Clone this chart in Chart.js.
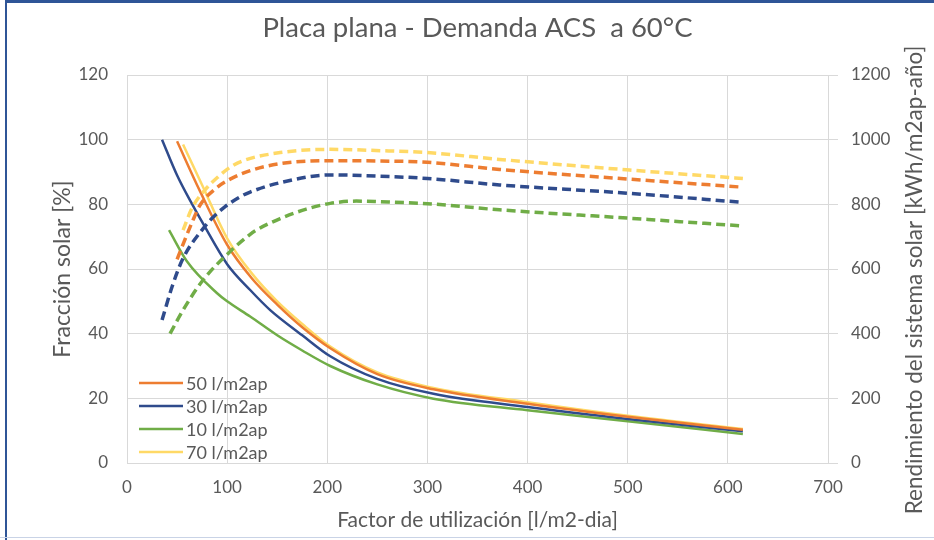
<!DOCTYPE html>
<html><head><meta charset="utf-8">
<script src="https://cdn.jsdelivr.net/npm/chart.js@4.4.1/dist/chart.umd.min.js"></script>
<style>
html,body{margin:0;padding:0;background:#fff;}
#wrap{position:relative;width:934px;height:540px;overflow:hidden;background:#fff;}
#c{position:absolute;left:0;top:0;}
#bl{position:absolute;left:5px;top:0;width:2px;height:540px;background:#2F5597;}
#bt{position:absolute;left:5px;top:0;width:929px;height:3px;background:#2F5597;}
#bb{position:absolute;left:0;top:537px;width:934px;height:1px;background:#C9D3E6;}
</style></head>
<body>
<div id="wrap"><canvas id="c" width="934" height="540"></canvas><div id="bl"></div><div id="bt"></div><div id="bb"></div></div>
<script>
// ---- data ----
const chartTitle = "Placa plana - Demanda ACS  a 60°C";
const xTitle = "Factor de utilización [l/m2-dia]";
const yLeftTitle = "Fracción solar [%]";
const yRightTitle = "Rendimiento del sistema solar [kWh/m2ap-año]";
const seriesLabels = ["50 l/m2ap", "30 l/m2ap", "10 l/m2ap", "70 l/m2ap"];
const xTicks = [0, 100, 200, 300, 400, 500, 600, 700];
const yLeftTicks = [0, 20, 40, 60, 80, 100, 120];
const yRightTicks = [0, 200, 400, 600, 800, 1000, 1200];

// Fracción solar [%] (solid lines)
const x50 = [50, 73, 100, 125, 150, 175, 203, 250, 306, 400, 500, 615];
const fs50 = [99.5, 84, 67.5, 57, 49, 42, 35.5, 27.5, 22.8, 18.3, 14.3, 10.3];
const x30 = [35, 50, 66, 76, 100, 123, 143, 175, 203, 250, 306, 400, 500, 615];
const fs30 = [100, 89, 79.5, 74, 61.5, 53.5, 47.3, 39.5, 33, 26, 21.4, 17.3, 13.6, 9.8];
const x10 = [42, 60, 90, 100, 123, 150, 175, 203, 250, 306, 400, 500, 615];
const fs10 = [72, 62.3, 52.5, 50, 45.3, 39.5, 34.8, 30, 24.3, 19.9, 16.3, 12.9, 9.0];
const x70 = [56, 75, 100, 125, 150, 175, 203, 250, 306, 400, 500, 615];
const fs70 = [98.5, 86, 69.5, 58.5, 50, 43, 36, 28, 23.2, 18.8, 14.6, 10.5];

// Rendimiento [kWh/m2ap-año] (dashed lines)
const xr50 = [50, 66, 73, 89, 103, 123, 153, 203, 253, 300, 372, 502, 615];
const rd50 = [630, 752, 798, 850, 878, 904, 926, 935, 934, 930, 908, 878, 853];
const xr30 = [35, 45, 56, 76, 85, 98, 114, 123, 153, 203, 253, 300, 372, 502, 615];
const rd30 = [442, 545, 633, 725, 757, 793, 825, 838, 867, 891, 887, 880, 860, 834, 806];
const xr10 = [43, 56, 76, 103, 120, 128, 153, 179, 203, 229, 253, 300, 372, 502, 615];
const rd10 = [400, 473, 566, 654, 700, 718, 756, 785, 803, 810, 808, 802, 783, 757, 733];
const xr70 = [56, 65, 78, 91, 103, 116, 153, 203, 253, 300, 372, 502, 615];
const rd70 = [720, 789, 845, 885, 915, 935, 960, 970, 966, 960, 939, 906, 880];

// ---- style ----
const colors = ["#ED7D31", "#2F4B8C", "#70AD47", "#FFD966"];
const textColor = "#595959";
const gridColor = "#D9D9D9";
const FONT = "Lato";

const pts = (xs, ys) => xs.map((x, i) => ({x: x, y: ys[i]}));
const solidSets = [[x50, fs50], [x30, fs30], [x10, fs10], [x70, fs70]];
const dashSets = [[xr50, rd50], [xr30, rd30], [xr10, rd10], [xr70, rd70]];

const datasets = [];
dashSets.forEach((s, i) => datasets.push({
  label: seriesLabels[i] + " rendimiento", data: pts(s[0], s[1]), yAxisID: "y2",
  borderColor: colors[i], borderWidth: 3.5, borderDash: [9, 5], pointRadius: 0,
  cubicInterpolationMode: "monotone", fill: false
}));
solidSets.forEach((s, i) => datasets.push({
  label: seriesLabels[i], data: pts(s[0], s[1]), yAxisID: "y",
  borderColor: colors[i], borderWidth: 2.5, pointRadius: 0,
  cubicInterpolationMode: "monotone", fill: false
}));

const insideLegend = {
  id: "insideLegend",
  afterDatasetsDraw(chart) {
    const ctx = chart.ctx, a = chart.chartArea;
    ctx.save();
    ctx.font = "18px " + FONT;
    ctx.textBaseline = "middle";
    ctx.textAlign = "left";
    seriesLabels.forEach((lab, i) => {
      const y = a.bottom - 80 + i * 23;
      ctx.strokeStyle = colors[i];
      ctx.lineWidth = 2.5;
      ctx.setLineDash([]);
      ctx.beginPath(); ctx.moveTo(a.left + 12, y); ctx.lineTo(a.left + 56, y); ctx.stroke();
      ctx.fillStyle = textColor;
      ctx.fillText(lab, a.left + 59, y + 1);
    });
    ctx.restore();
  }
};
const rightTitle = {
  id: "rightTitle",
  afterDraw(chart) {
    const ctx = chart.ctx, a = chart.chartArea;
    ctx.save();
    ctx.translate(915, (a.top + a.bottom) / 2 + 11);
    ctx.rotate(-Math.PI / 2);
    ctx.font = "22.5px " + FONT;
    ctx.fillStyle = textColor;
    ctx.textAlign = "center";
    ctx.textBaseline = "middle";
    ctx.fillText(yRightTitle, 0, 0);
    ctx.restore();
  }
};

new Chart(document.getElementById("c"), {
  type: "line",
  data: {datasets: datasets},
  options: {
    responsive: false, animation: false, devicePixelRatio: 1,
    layout: {padding: 0},
    plugins: {
      legend: {display: false},
      tooltip: {enabled: false},
      title: {display: true, text: chartTitle, fullSize: false, color: textColor,
        font: {family: FONT, size: 27.5, weight: "normal", lineHeight: 1.2},
        padding: {top: 12, bottom: 75 - 12 - 27.5 * 1.2}}
    },
    scales: {
      x: {type: "linear", min: 0, max: 700,
        afterBuildTicks: s => { s.ticks = xTicks.map(v => ({value: v})); },
        afterFit: s => { s.height = 77; },
        grid: {color: gridColor, drawTicks: false},
        border: {color: gridColor},
        ticks: {color: textColor, font: {family: FONT, size: 17}, padding: 14, maxRotation: 0,
          callback: v => String(v)},
        title: {display: true, text: xTitle, color: textColor,
          font: {family: FONT, size: 21}, padding: {top: 0, bottom: 7}}
      },
      y: {position: "left", min: 0, max: 120,
        afterBuildTicks: s => { s.ticks = yLeftTicks.map(v => ({value: v})); },
        afterFit: s => { s.width = 127; },
        grid: {color: gridColor, drawTicks: false},
        border: {color: gridColor},
        ticks: {color: textColor, font: {family: FONT, size: 17}, padding: 19,
          callback: v => String(v)},
        title: {display: true, text: yLeftTitle, color: textColor,
          font: {family: FONT, size: 23}, padding: {top: 49, bottom: 0}}
      },
      y2: {position: "right", min: 0, max: 1200,
        afterBuildTicks: s => { s.ticks = yRightTicks.map(v => ({value: v})); },
        afterFit: s => { s.width = 106; },
        grid: {color: gridColor, drawOnChartArea: false, drawTicks: true, tickLength: 10},
        border: {color: gridColor},
        ticks: {color: textColor, font: {family: FONT, size: 17}, padding: 13,
          callback: v => String(v)}
      }
    }
  },
  plugins: [insideLegend, rightTitle]
});
</script>
</body></html>
